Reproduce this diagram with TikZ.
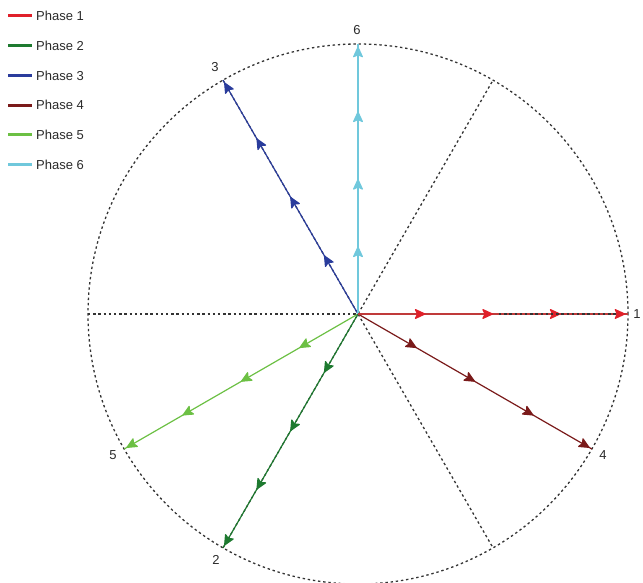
\documentclass[tikz,border=0pt]{standalone}
\usepackage{fontspec}
\setmainfont{Liberation Sans}
\usetikzlibrary{arrows.meta,decorations.markings,calc}
\definecolor{pA}{HTML}{E0202A}
\definecolor{pAl}{HTML}{C03A3A}
\definecolor{pB}{HTML}{1E7A30}
\definecolor{pC}{HTML}{2A3C9C}
\definecolor{pD}{HTML}{7A1A1A}
\definecolor{pE}{HTML}{6CC044}
\definecolor{pF}{HTML}{70C8DC}
\definecolor{txt}{HTML}{2A2A2A}
\begin{document}
\begin{tikzpicture}[x=1pt,y=1pt,
  lab/.style={text=txt,font=\fontsize{13}{15}\selectfont,inner sep=1pt},
  grid/.style={line width=1.3pt,dash pattern=on 2.4pt off 2.8pt,black!80},
  swatch/.style={line width=3pt},
  phase/.style={draw=#1,line width=1.2pt,postaction={decorate},
    decoration={markings,
      mark=at position 0.25 with {\arrow[#1]{Stealth[length=12pt,width=11pt,inset=2.5pt,round]}},
      mark=at position 0.5 with {\arrow[#1]{Stealth[length=12pt,width=11pt,inset=2.5pt,round]}},
      mark=at position 0.75 with {\arrow[#1]{Stealth[length=12pt,width=11pt,inset=2.5pt,round]}},
      mark=at position 0.99 with {\arrow[#1]{Stealth[length=12pt,width=11pt,inset=2.5pt,round]}}}}
]
\useasboundingbox (0,0) rectangle (643,582);
\coordinate (O) at (358,268);
% circle and grid diameters
\draw[grid] (O) circle (270);
\path (O) ++(0:270) coordinate (g0) (O) ++(180:270) coordinate (g180)
      (O) ++(60:270) coordinate (g60) (O) ++(240:270) coordinate (g240)
      (O) ++(120:270) coordinate (g120) (O) ++(300:270) coordinate (g300);
\draw[grid] (g180) -- (g0);
\draw[grid] (g240) -- (g60);
\draw[grid] (g120) -- (g300);
% phase end points
\path (O) ++(0:270) coordinate (p1) (O) ++(240:270) coordinate (p2)
      (O) ++(120:270) coordinate (p3) (O) ++(330:270) coordinate (p4)
      (O) ++(210:270) coordinate (p5) (O) ++(90:270) coordinate (p6);
\draw[phase=pE] (O) -- (p5);
\draw[phase=pB] (O) -- (p2);
\draw[phase=pD] (O) -- (p4);
\draw[phase=pC] (O) -- (p3);
\draw[phase=pF] (O) -- (p6);
\draw[phase=pA,draw=pAl] (O) -- (p1);
\coordinate (h1) at ($(O)!0.5!(p1)+(6,0)$);
\coordinate (h2) at ($(p1)+(-10,0)$);
\draw[grid] (h1) -- (h2);
% end labels
\node[lab] (n1) at (637,268) {1};
\node[lab] (n2) at (216,22) {2};
\node[lab] (n3) at (215,515) {3};
\node[lab] (n4) at (603,127) {4};
\node[lab] (n5) at (113,127) {5};
\node[lab] (n6) at (357,552) {6};
% legend
\foreach \i/\c in {1/pA,2/pB,3/pC,4/pD,5/pE,6/pF}{
  \node[lab,anchor=west] (leg\i) at (35,{566-29.7*(\i-1)}) {Phase \i};
  \draw[swatch,\c] ($(leg\i.west)+(-27,0)$) -- ($(leg\i.west)+(-3,0)$);
}
\end{tikzpicture}
\end{document}
